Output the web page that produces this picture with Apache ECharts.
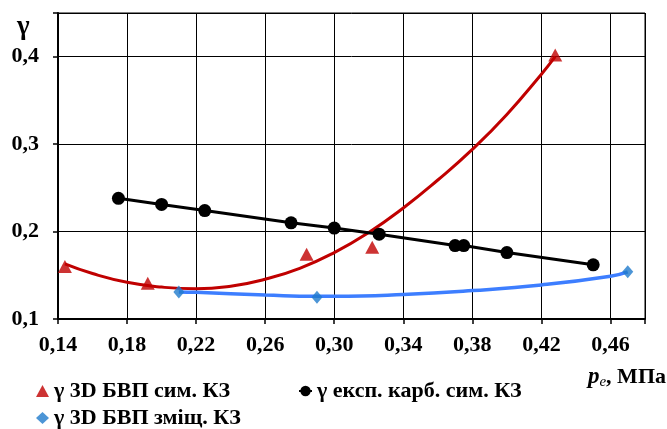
<!DOCTYPE html>
<html>
<head>
<meta charset="utf-8">
<script src="https://cdn.jsdelivr.net/npm/echarts@6/dist/echarts.min.js"></script>
<style>
html,body{margin:0;padding:0;background:#fff;}
#chart{width:667px;height:429px;}
</style>
</head>
<body>
<div id="chart"></div>
<script>
// ---- data ----
const redName = 'γ 3D БВП сим. КЗ';
const blackName = 'γ експ. карб. сим. КЗ';
const blueName = 'γ 3D БВП зміщ. КЗ';

const redX = [0.144, 0.192, 0.284, 0.322, 0.428];
const redY = [0.160, 0.141, 0.174, 0.182, 0.402];

const blackX = [0.175, 0.200, 0.225, 0.275, 0.300, 0.326, 0.370, 0.375, 0.400, 0.450];
const blackY = [0.238, 0.231, 0.224, 0.210, 0.204, 0.197, 0.184, 0.184, 0.176, 0.162];

const blueX = [0.210, 0.290, 0.470];
const blueY = [0.131, 0.125, 0.154];

// trend curves
const redCurveX = [0.144, 0.16, 0.18, 0.20, 0.22, 0.24, 0.26, 0.28, 0.30, 0.32, 0.34, 0.36, 0.38, 0.40, 0.42, 0.428];
const redCurveY = [0.163, 0.152, 0.142, 0.1365, 0.1345, 0.1375, 0.1455, 0.158, 0.176, 0.199, 0.227, 0.259, 0.294, 0.334, 0.380, 0.400];

const blueCurveX = [0.210, 0.22, 0.26, 0.29, 0.30, 0.34, 0.38, 0.42, 0.46, 0.470];
const blueCurveY = [0.131, 0.1305, 0.1275, 0.126, 0.126, 0.128, 0.1325, 0.139, 0.149, 0.154];

const xTickLabels = ['0,14','0,18','0,22','0,26','0,30','0,34','0,38','0,42','0,46'];
const yTickLabels = ['0,1','0,2','0,3','0,4'];

function pairs(xs, ys){ return xs.map((x,i)=>[x, ys[i]]); }

const FONT = "'Liberation Serif', 'Times New Roman', serif";
const RED = '#C00000', BLUE_LINE = '#3D7EFF', BLUE_MK = '#1F7BCC';

const chart = echarts.init(document.getElementById('chart'), null, {renderer:'canvas'});
const legendText = {fontFamily: FONT, fontWeight: 'bold', fontSize: 22, color: '#000'};

chart.setOption({
  animation: false,
  backgroundColor: '#fff',
  grid: {left: 58, top: 13, right: 22, bottom: 110, show: true, borderColor: '#000', borderWidth: 1, backgroundColor: 'transparent'},
  xAxis: {
    type: 'value', min: 0.14, max: 0.48, interval: 0.04,
    axisLine: {show: true, onZero: false, lineStyle: {color: '#000', width: 2}},
    axisTick: {show: true, inside: false, length: 5, lineStyle: {color: '#000', width: 1.5}},
    splitLine: {show: true, lineStyle: {color: '#000', width: 1}},
    axisLabel: {
      margin: 15, fontFamily: FONT, fontWeight: 'bold', fontSize: 22, color: '#000',
      formatter: function(v){
        const i = Math.round((v - 0.14) / 0.04);
        if (Math.abs(v - (0.14 + i*0.04)) > 1e-6) return '';
        return xTickLabels[i] || '';
      }
    }
  },
  yAxis: {
    type: 'value', min: 0.1, max: 0.45, interval: 0.1,
    axisLine: {show: true, onZero: false, lineStyle: {color: '#000', width: 2}},
    axisTick: {show: true, inside: false, length: 5, lineStyle: {color: '#000', width: 1.5}},
    splitLine: {show: true, lineStyle: {color: '#000', width: 1}},
    axisLabel: {
      margin: 19, fontFamily: FONT, fontWeight: 'bold', fontSize: 22, color: '#000',
      formatter: function(v){
        const i = Math.round((v - 0.1) / 0.1);
        if (Math.abs(v - (0.1 + i*0.1)) > 1e-6) return '';
        return yTickLabels[i] || '';
      }
    }
  },
  legend: [
    {data: [redName], left: 36, top: 380, itemWidth: 13, itemHeight: 12, itemGap: 5, textStyle: legendText, selectedMode: false, padding: 0},
    {data: [blackName], left: 298, top: 380, itemWidth: 13, itemHeight: 13, itemGap: 5, textStyle: legendText, selectedMode: false, padding: 0},
    {data: [blueName], left: 36, top: 407, itemWidth: 13, itemHeight: 12, itemGap: 5, textStyle: legendText, selectedMode: false, padding: 0}
  ],
  graphic: [
    {type: 'text', left: 17, top: 14, style: {text: 'γ', fontFamily: FONT, fontWeight: 'bold', fontSize: 27, fill: '#000'}},
    {type: 'text', right: 1, top: 366, style: {
      text: '{p|p}{s|e}{n|, МПа}',
      rich: {
        p: {fontFamily: FONT, fontStyle: 'italic', fontWeight: 'bold', fontSize: 23, fill: '#000'},
        s: {fontFamily: FONT, fontStyle: 'italic', fontSize: 15, fill: '#000', padding: [10, 0, 0, 0]},
        n: {fontFamily: FONT, fontWeight: 'bold', fontSize: 22, fill: '#000'}
      }
    }}
  ],
  series: [
    {name: 'redCurve', type: 'line', data: pairs(redCurveX, redCurveY), smooth: 0.5, showSymbol: false, symbol: 'none',
     lineStyle: {color: RED, width: 3}, z: 3, silent: true},
    {name: 'blueCurve', type: 'line', data: pairs(blueCurveX, blueCurveY), smooth: 0.5, showSymbol: false, symbol: 'none',
     lineStyle: {color: BLUE_LINE, width: 3.5}, z: 3, silent: true},
    {name: blackName, type: 'line', data: pairs(blackX, blackY), symbol: 'circle', symbolSize: 13,
     itemStyle: {color: '#000'}, lineStyle: {color: '#000', width: 3}, z: 4},
    {name: redName, type: 'scatter', data: pairs(redX, redY), symbol: 'triangle', symbolSize: [14, 13],
     itemStyle: {color: RED}, z: 5},
    {name: blueName, type: 'scatter', data: pairs(blueX, blueY), symbol: 'diamond', symbolSize: [11, 13],
     itemStyle: {color: BLUE_MK}, z: 5}
  ]
});
</script>
</body>
</html>
